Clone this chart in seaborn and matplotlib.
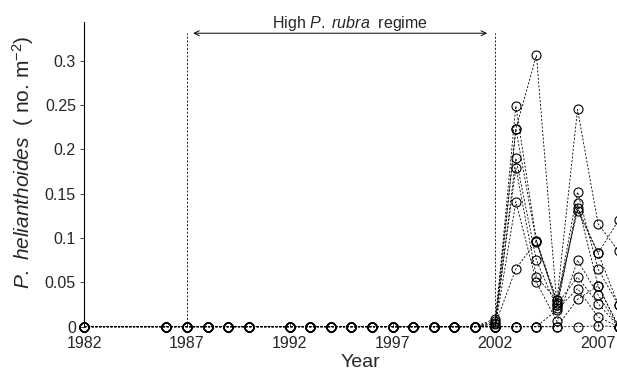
'''
Sunflower star density by site and year, with the high P. rubra period marked
'''
import numpy as np
import pandas as pd
import matplotlib
matplotlib.use('Agg')
import matplotlib.pyplot as plt
import seaborn as sns

# survey years before the collapse: every site was at zero
early_years = [1982, 1986, 1987, 1988, 1989, 1990, 1992, 1993, 1994,
               1995, 1996, 1997, 1998, 1999, 2000, 2001]
early_value = [0, 0, 0, 0, 0, 0, 0, 0, 0, 0, 0, 0, 0, 0, 0, 0]

late_years = [2002, 2003, 2004, 2005, 2006, 2007, 2008]
# one row per site (no. m^-2)
late_density = [
    [0.000, 0.223, 0.306, 0.024, 0.134, 0.083, 0.120],
    [0.004, 0.249, 0.097, 0.030, 0.245, 0.116, 0.085],
    [0.009, 0.223, 0.095, 0.027, 0.152, 0.065, 0.024],
    [0.000, 0.190, 0.075, 0.021, 0.139, 0.046, 0.000],
    [0.006, 0.179, 0.056, 0.030, 0.131, 0.083, 0.024],
    [0.000, 0.141, 0.050, 0.006, 0.075, 0.036, 0.000],
    [0.003, 0.065, 0.097, 0.025, 0.056, 0.026, 0.000],
    [0.000, 0.000, 0.000, 0.019, 0.043, 0.011, 0.000],
    [0.000, 0.000, 0.000, 0.000, 0.031, 0.046, 0.000],
    [0.000, 0.000, 0.000, 0.000, 0.000, 0.001, 0.000],
]

regime_start = 1987
regime_end = 2002
x_ticks = [1982, 1987, 1992, 1997, 2002, 2007]
y_ticks = [0, 0.05, 0.1, 0.15, 0.2, 0.25, 0.3]
y_tick_labels = ['0', '0.05', '0.1', '0.15', '0.2', '0.25', '0.3']

rows = []
for site, vals in enumerate(late_density):
    for yr, v in zip(early_years + late_years, early_value + vals):
        rows.append({'site': site, 'year': yr, 'density': v})
df = pd.DataFrame(rows)

sns.set_style('ticks')
plt.rcParams['font.family'] = ['Liberation Sans', 'DejaVu Sans']
plt.rcParams['mathtext.fontset'] = 'custom'
plt.rcParams['mathtext.rm'] = 'Liberation Sans'
plt.rcParams['mathtext.it'] = 'Liberation Sans:italic'

fig = plt.figure(figsize=(6.17, 3.74), dpi=100)
ax = fig.add_axes([0.1365, 0.1265, 0.8635, 0.8155])

sns.lineplot(data=df, x='year', y='density', units='site', estimator=None,
             color='k', lw=0.6, dashes=False, ax=ax,
             marker='o', markersize=6.5, mfc='none', mec='k', mew=0.8)
for line in ax.get_lines():
    line.set_linestyle((0, (2.5, 2)))
    line.set_clip_on(False)

# regime markers
ax.plot([regime_start, regime_start], [0, 0.331], color='k', lw=0.6, ls=(0, (2.5, 2)))
ax.plot([regime_end, regime_end], [0, 0.331], color='k', lw=0.6, ls=(0, (2.5, 2)))
ax.annotate('', xy=(1987.3, 0.331), xytext=(2001.6, 0.331),
            arrowprops=dict(arrowstyle='<->', lw=0.7, color='k',
                            shrinkA=0, shrinkB=0, mutation_scale=9),
            annotation_clip=False)
ax.text(1994.95, 0.3425, r'High $\it{P.}$ $\it{rubra}$  regime', ha='center', va='center',
        fontsize=11.5, clip_on=False)

ax.set_xlim(1982, 2007.92)
ax.set_ylim(0, 0.344)
ax.set_xticks(x_ticks)
ax.set_xticklabels([str(t) for t in x_ticks])
ax.set_yticks(y_ticks)
ax.set_yticklabels(y_tick_labels)
ax.tick_params(axis='x', direction='in', length=3, width=0.6, pad=7, labelsize=11.5)
ax.tick_params(axis='y', direction='out', length=3, width=0.6, pad=3, labelsize=11.5)

for side in ['top', 'right', 'bottom']:
    ax.spines[side].set_visible(False)
ax.spines['left'].set_linewidth(0.8)
ax.spines['left'].set_color('k')

ax.set_ylabel(r'$\it{P.}$ $\it{helianthoides}$  ( no. m$^{-2}$)', fontsize=15)
ax.yaxis.set_label_coords(-0.1145, 0.54)
ax.yaxis.label.set_verticalalignment('center')
ax.set_xlabel('Year', fontsize=14)
ax.xaxis.set_label_coords(0.518, -0.116)
ax.xaxis.label.set_verticalalignment('center')

fig.savefig('out.png', dpi=100)
